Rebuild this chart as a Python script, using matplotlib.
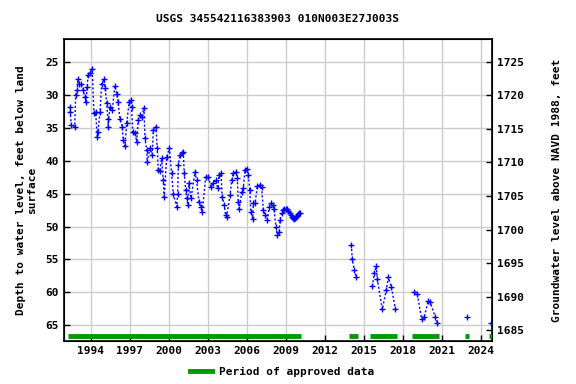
import numpy as np
import matplotlib
matplotlib.use("Agg")
import matplotlib.pyplot as plt
import matplotlib.transforms as mtransforms
from matplotlib.lines import Line2D

title = "USGS 345542116383903 010N003E27J003S"

years = [
    1992.41, 1992.43, 1992.51, 1992.77, 1992.85, 1992.97, 1993.02, 1993.10, 1993.28, 1993.43,
    1993.54, 1993.64, 1993.74, 1993.79, 1993.95, 1994.12, 1994.25, 1994.38, 1994.51, 1994.56,
    1994.72, 1994.85, 1995.02, 1995.12, 1995.23, 1995.33, 1995.35, 1995.48, 1995.66, 1995.87,
    1996.00, 1996.10, 1996.25, 1996.43, 1996.51, 1996.64, 1996.77, 1996.97, 1997.08, 1997.15,
    1997.23, 1997.41, 1997.54, 1997.66, 1997.79, 1997.92, 1998.10, 1998.18, 1998.31, 1998.35,
    1998.56, 1998.74, 1998.82, 1999.02, 1999.12, 1999.20, 1999.33, 1999.46, 1999.58, 1999.66,
    1999.85, 2000.05, 2000.23, 2000.35, 2000.62, 2000.69, 2000.74, 2000.87, 2001.00, 2001.12,
    2001.20, 2001.31, 2001.38, 2001.48, 2001.55, 2001.72, 2002.02, 2002.15, 2002.33, 2002.48,
    2002.58, 2002.85, 2003.05, 2003.25, 2003.43, 2003.62, 2003.77, 2003.87, 2004.02, 2004.12,
    2004.28, 2004.38, 2004.46, 2004.72, 2004.85, 2004.97, 2005.18, 2005.28, 2005.35, 2005.43,
    2005.62, 2005.74, 2005.87, 2006.00, 2006.12, 2006.25, 2006.31, 2006.46, 2006.51, 2006.64,
    2006.82, 2007.02, 2007.15, 2007.28, 2007.41, 2007.58, 2007.74, 2007.85, 2008.00, 2008.10,
    2008.25, 2008.35, 2008.51, 2008.56, 2008.69, 2008.82, 2008.90, 2009.02, 2009.10, 2009.20,
    2009.30, 2009.40, 2009.46, 2009.55, 2009.64, 2009.70, 2009.79, 2009.85, 2009.97, 2010.03,
    2010.10,
    2014.05, 2014.12, 2014.27, 2014.43,
    2015.67, 2015.82, 2015.97, 2016.05, 2016.43, 2016.74, 2016.90, 2017.13, 2017.43,
    2018.90, 2019.13, 2019.46, 2019.66, 2019.97, 2020.12, 2020.51, 2020.66,
    2022.97,
    2024.82,
]
depth = [
    31.8, 32.6, 34.6, 34.9, 30.0, 29.2, 27.6, 28.4, 28.3, 29.2,
    30.3, 31.0, 28.8, 27.0, 26.7, 26.0, 32.7, 32.6, 36.4, 35.6,
    32.6, 28.3, 27.6, 29.0, 31.3, 33.6, 34.8, 31.8, 32.3, 28.6,
    29.8, 31.0, 33.6, 34.8, 36.9, 37.8, 34.3, 31.0, 30.8, 31.8,
    35.6, 35.8, 37.1, 33.8, 33.1, 33.3, 32.0, 36.6, 38.4, 40.2,
    38.1, 39.1, 35.3, 34.8, 38.1, 41.4, 41.5, 39.6, 42.9, 45.5,
    39.4, 38.1, 41.9, 45.0, 47.0, 45.0, 40.7, 39.1, 38.9, 38.6,
    41.9, 44.5, 45.7, 46.7, 43.4, 45.7, 41.7, 43.0, 46.2, 47.0,
    47.8, 42.5, 42.4, 44.0, 43.4, 42.9, 44.2, 42.2, 41.9, 45.5,
    46.7, 48.3, 48.5, 45.2, 43.0, 41.9, 41.7, 42.7, 46.2, 47.3,
    44.7, 44.2, 41.4, 41.2, 42.2, 44.5, 47.8, 48.8, 46.5, 46.5,
    43.9, 43.7, 44.0, 47.5, 48.3, 49.0, 47.0, 46.5, 46.8, 47.3,
    50.0, 51.3, 50.8, 49.0, 48.0, 47.5, 47.3, 47.3, 47.4, 47.7,
    47.9, 48.2, 48.5, 48.7, 48.8, 48.7, 48.5, 48.4, 48.1, 48.0,
    47.9,
    52.8, 54.9, 56.6, 57.7,
    59.1, 57.0, 56.0, 58.0, 62.6, 59.6, 57.7, 59.2, 62.5,
    59.9, 60.3, 64.1, 63.7, 61.3, 61.5, 63.8, 64.6,
    63.8,
    64.6,
]

approved_start = [1992.25, 2013.87, 2015.48, 2018.72, 2022.80, 2024.64]
approved_end = [2010.15, 2014.54, 2017.54, 2020.80, 2023.10, 2025.00]

xticks = list(range(1994, 2025, 3))
left_ticks = list(range(25, 66, 5))
right_ticks = list(range(1685, 1726, 5))

FONT = "DejaVu Sans Mono"
plt.rcParams["font.family"] = FONT
plt.rcParams["font.weight"] = "bold"
plt.rcParams["font.size"] = 8

fig = plt.figure(figsize=(5.76, 3.84), dpi=100)
ax = fig.add_axes([64 / 576, 1 - 341 / 384, (492 - 64) / 576, (341 - 39) / 384])

# break line where gaps are large
yrs = np.array(years)
dep = np.array(depth, dtype=float)
xs, ys = [], []
for i in range(len(yrs)):
    if i > 0 and yrs[i] - yrs[i - 1] > 0.8:
        xs.append(np.nan)
        ys.append(np.nan)
    xs.append(yrs[i])
    ys.append(dep[i])

ax.plot(xs, ys, color="#0000ff", linestyle=(0, (1.5, 1.5)), linewidth=1.0,
        marker="+", markersize=4, markeredgewidth=1.0, zorder=3)

trans = mtransforms.blended_transform_factory(ax.transData, ax.transAxes)
for s, e in zip(approved_start, approved_end):
    ax.plot([s, e], [0.017, 0.017], color="#009900", linewidth=3.5,
            solid_capstyle="butt", transform=trans, zorder=4, clip_on=True)

ax.set_xlim(1991.95, 2024.87)
ax.set_ylim(67.4, 21.5)
ax.set_xticks(xticks)
ax.set_yticks(left_ticks)
ax.grid(True, color="#cccccc", linewidth=1.0)
ax.set_axisbelow(True)
ax.tick_params(direction="in", length=4, width=1, labelsize=8)
for sp in ax.spines.values():
    sp.set_linewidth(1.2)

ax.set_ylabel("Depth to water level, feet below land\nsurface", fontsize=8,
              fontweight="bold", labelpad=6)

ax2 = ax.twinx()
ax2.set_ylim(1683.4, 1728.4)
ax2.set_yticks(right_ticks)
ax2.tick_params(direction="in", length=4, width=1, labelsize=8)
ax2.set_ylabel("Groundwater level above NAVD 1988, feet", fontsize=8,
               fontweight="bold", labelpad=20)

fig.text(278 / 576, 1 - 19 / 384, title, ha="center", va="center",
         fontsize=8, fontweight="bold")

handle = Line2D([0], [0], color="#009900", linewidth=3.5)
fig.legend([handle], ["Period of approved data"], loc="center",
           bbox_to_anchor=(282 / 576, 1 - 372 / 384), frameon=False,
           fontsize=8, handlelength=2.0, handletextpad=0.6)

fig.savefig("out.png", dpi=100)
